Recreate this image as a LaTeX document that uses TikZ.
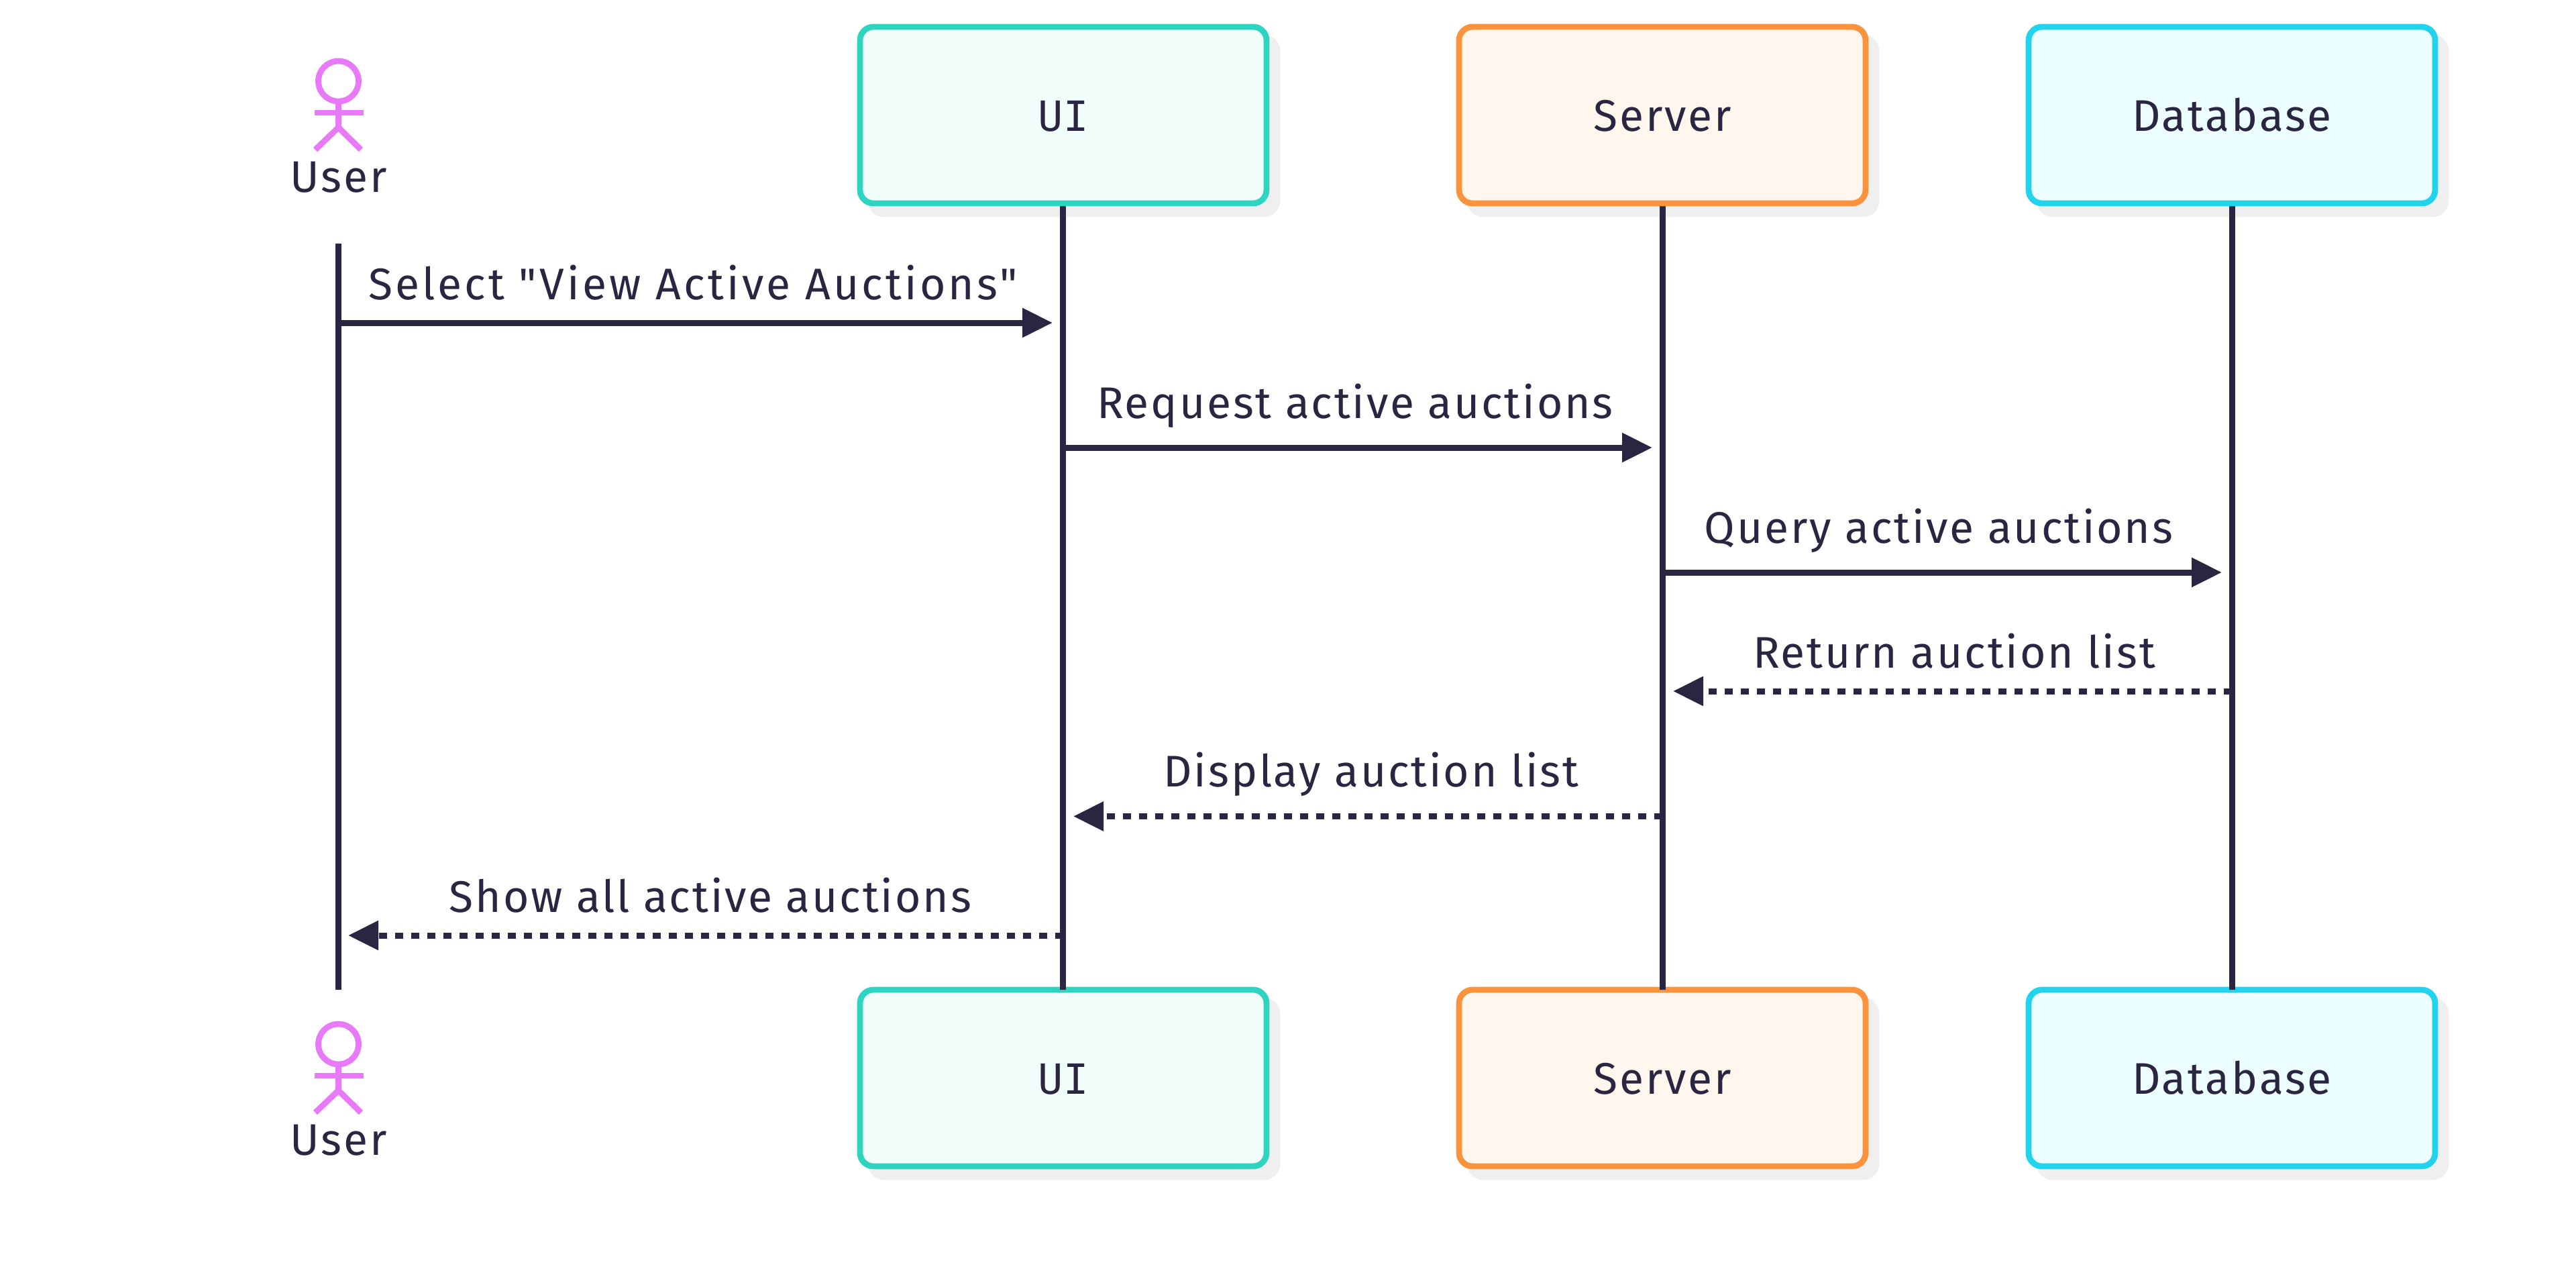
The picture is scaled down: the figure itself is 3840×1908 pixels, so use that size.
\documentclass[tikz,border=0pt]{standalone}
\usepackage{fontspec}
\newfontfamily\labelfont{Fira Sans}[LetterSpace=4.3]
\newfontfamily\slabfont{DejaVu Sans Mono}
\usetikzlibrary{arrows.meta}
\definecolor{ink}{HTML}{2A2540}
\definecolor{shade}{HTML}{EFEFEF}
\definecolor{tealS}{HTML}{2DD4BF}\definecolor{tealF}{HTML}{F0FDFA}
\definecolor{orS}{HTML}{FB923C}\definecolor{orF}{HTML}{FFF7ED}
\definecolor{cyS}{HTML}{22D3EE}\definecolor{cyF}{HTML}{ECFEFF}
\definecolor{pink}{HTML}{E879F9}
\pgfdeclarelayer{shad}\pgfdeclarelayer{bot}\pgfdeclarelayer{mid}
\pgfsetlayers{shad,bot,mid,main}
\tikzset{
  x=0.5pt,y=-0.5pt,
  txt/.style={font=\labelfont\fontsize{33}{36}\selectfont,text=ink,inner sep=0pt,outer sep=0pt},
  boxn/.style={txt,rectangle,rounded corners=10pt,line width=4.4pt,minimum width=303pt,minimum height=131.5pt,
    text height=23.5pt,text depth=0pt},
  shadowbox/.style={fill=shade,draw=shade,line width=4.4pt,rounded corners=10pt},
  uibox/.style={boxn,draw=tealS,fill=tealF,font=\slabfont\fontsize{31}{36}\selectfont},
  srvbox/.style={boxn,draw=orS,fill=orF},
  dbbox/.style={boxn,draw=cyS,fill=cyF},
  life/.style={draw=ink,line width=4.5pt},
  sync/.style={draw=ink,line width=4.5pt,-{Triangle[length=22.5pt,width=21pt,fill=ink]}},
  reply/.style={sync,dash pattern=on 6pt off 6pt},
  msgtxt/.style={txt,anchor=base},
  stick/.style={draw=pink,line width=4.4pt},
  actortxt/.style={txt,anchor=base},
}
\newcommand{\actorfig}[2]{% origin y offset, name
  \begin{scope}[shift={(0,#1)}]
    \node[stick,circle,minimum size=30pt,inner sep=0pt,outer sep=0pt] (#2h) at (504.5,121) {};
    \coordinate (#2n) at (504.5,190);
    \coordinate (#2al) at (469,168);\coordinate (#2ar) at (542,168);
    \coordinate (#2ll) at (470,223);\coordinate (#2lr) at (538,223);
    \draw[stick] (#2h.south) -- (#2n);
    \draw[stick] (#2al) -- (#2ar);
    \draw[stick] (#2ll) -- (#2n) -- (#2lr);
  \end{scope}}
\newcommand{\boxshadow}[1]{\draw[shadowbox] ([shift={(16,16)}]#1.south west) rectangle ([shift={(16,16)}]#1.north east);}
\begin{document}
\begin{tikzpicture}
\useasboundingbox (0,0) rectangle (3840,1908);
% actors
\actorfig{0}{ua}
\actorfig{1435}{ub}
\node[actortxt] (userT) at (504.5,286) {User};
\node[actortxt] (userB) at (504.5,1721) {User};
% top boxes
\node[uibox] (uiT) at (1585,171.5) {UI};
\node[srvbox] (srvT) at (2478,171.5) {Server};
\node[dbbox] (dbT) at (3327,171.5) {Database};
% bottom boxes
\begin{pgfonlayer}{bot}
\node[uibox] (uiB) at (1585,1606.5) {UI};
\node[srvbox] (srvB) at (2478,1606.5) {Server};
\node[dbbox] (dbB) at (3327,1606.5) {Database};
\end{pgfonlayer}
\begin{pgfonlayer}{shad}
\fill[white] (0,0) rectangle (3840,1908);
\boxshadow{uiT}\boxshadow{srvT}\boxshadow{dbT}
\boxshadow{uiB}\boxshadow{srvB}\boxshadow{dbB}
\end{pgfonlayer}
% lifelines
\coordinate (uS) at (504.5,363);
\coordinate (uE) at (504.5,1475);
\begin{pgfonlayer}{mid}
\draw[life] (uS) -- (uE);
\draw[life] ([xshift=-0.25pt]uiT.south) -- ([xshift=-0.25pt]uiB.north);
\draw[life] (srvT.south) -- (srvB.north);
\draw[life] (dbT.south) -- (dbB.north);
\end{pgfonlayer}
% message ends
\coordinate (m1a) at (504.5,481);\coordinate (m1b) at (1569,481);
\coordinate (m2a) at (1584.5,667);\coordinate (m2b) at (2463,667);
\coordinate (m3a) at (2478,853);\coordinate (m3b) at (3312,853);
\coordinate (m4a) at (3327,1030);\coordinate (m4b) at (2494,1030);
\coordinate (m5a) at (2478,1216.5);\coordinate (m5b) at (1600,1216.5);
\coordinate (m6a) at (1584.5,1394);\coordinate (m6b) at (519,1394);
\draw[sync] (m1a) -- (m1b);
\draw[sync] (m2a) -- (m2b);
\draw[sync] (m3a) -- (m3b);
\draw[reply] (m4a) -- (m4b);
\draw[reply] (m5a) -- (m5b);
\draw[reply] (m6a) -- (m6b);
\node[msgtxt] (t1) at (1033,446) {\addfontfeature{LetterSpace=6.3}Select "View Active Auctions"};
\node[msgtxt] (t2) at (2020,623) {Request active auctions};
\node[msgtxt] (t3) at (2890,809) {Query active auctions};
\node[msgtxt] (t4) at (2913,995) {Return auction list};
\node[msgtxt] (t5) at (2044,1172) {Display auction list};
\node[msgtxt] (t6) at (1059,1359) {Show all active auctions};
\end{tikzpicture}
\end{document}
